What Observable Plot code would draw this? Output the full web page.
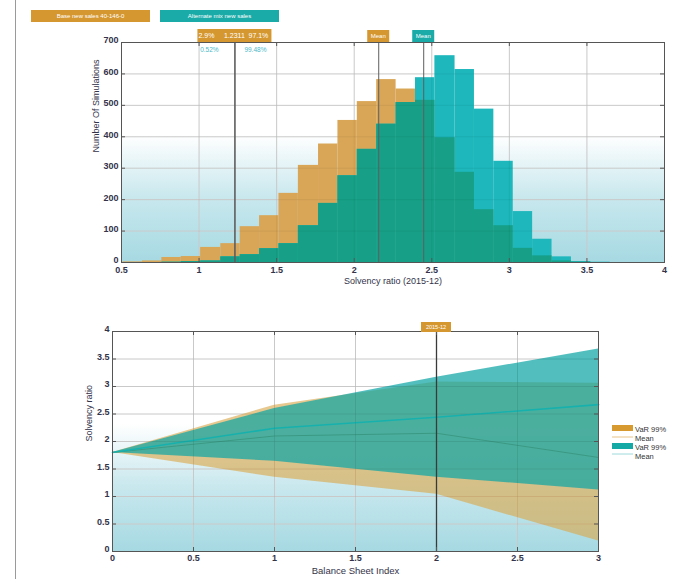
<!DOCTYPE html>
<html><head><meta charset="utf-8">
<script src="https://cdn.jsdelivr.net/npm/d3@7"></script>
<script src="https://cdn.jsdelivr.net/npm/@observablehq/plot@0.6"></script>
<style>
body{margin:0;background:#fff;}
#wrap{position:relative;width:690px;height:579px;overflow:hidden;font-family:"Liberation Sans",Arial,sans-serif;}
#topChart,#botChart{position:absolute;left:0;}
#topChart{top:0}
#botChart{top:300px}
#edge{position:absolute;left:15px;top:0;width:1px;height:579px;background:#9a9a9a;}
</style></head><body>
<div id="wrap"><div id="edge"></div><div id="topChart"></div><div id="botChart"></div></div>
<script>
// ---------- Histogram data ----------
const binEdges = [0.51, 0.635, 0.76, 0.885, 1.01, 1.14, 1.265, 1.39, 1.515, 1.64, 1.77, 1.895, 2.02, 2.145, 2.27, 2.395, 2.52, 2.65, 2.775, 2.9, 3.025, 3.15, 3.275, 3.4, 3.525, 3.65];
const baseCounts = [2, 5, 16, 19, 48, 60, 114, 149, 220, 309, 377, 452, 512, 582, 552, 516, 397, 287, 168, 117, 45, 21, 5, 1, 0];
const altCounts  = [0, 0, 1, 3, 5, 18, 25, 44, 60, 117, 188, 276, 360, 440, 509, 588, 658, 614, 488, 322, 162, 74, 18, 3, 1];
const histXTicks = [0.5, 1, 1.5, 2, 2.5, 3, 3.5, 4];
const histYTicks = [0, 100, 200, 300, 400, 500, 600, 700];
const varValue = 1.2311;
const baseMean = 2.158;
const altMean = 2.448;
const varLabels = ["2.9%", "1.2311", "97.1%"];
const altVarLabels = ["0.52%", "99.48%"];
const seriesNames = ["Base new sales 40-146-0", "Alternate mix new sales"];
const meanLabel = "Mean";
const histXLabel = "Solvency ratio (2015-12)";
const histYLabel = "Number Of Simulations";

// ---------- Fan chart data ----------
const bsIndex   = [0, 1, 2, 3];
const baseUpper = [1.8, 2.66, 3.08, 3.06];
const baseLower = [1.8, 1.35, 1.04, 0.19];
const baseMeanPath = [1.8, 2.1, 2.15, 1.71];
const altUpper  = [1.8, 2.6, 3.17, 3.68];
const altLower  = [1.8, 1.64, 1.35, 1.12];
const altMeanPath = [1.8, 2.24, 2.44, 2.67];
const fanXTicks = [0, 0.5, 1, 1.5, 2, 2.5, 3];
const fanYTicks = [0, 0.5, 1, 1.5, 2, 2.5, 3, 3.5, 4];
const currentIndex = 2;
const currentLabel = "2015-12";
const legendLabels = ["VaR 99%", "Mean", "VaR 99%", "Mean"];
const fanXLabel = "Balance Sheet Index";
const fanYLabel = "Solvency ratio";

// ---------- colours ----------
const ORANGE = "#d9a658", TEAL = "#1db7bc", GREEN = "#17a087";
const BOX_OR = "#d5972f", BOX_TE = "#1aaba8";
const AXIS = "#555", GRID = "#d6d6d6", TXT = "#33334a";
const FONT = "Liberation Sans, Arial, sans-serif";
const fmt = d => String(d);

function addGradient(svg, id) {
  const defs = d3.select(svg).insert("defs", ":first-child");
  const g = defs.append("linearGradient").attr("id", id)
    .attr("x1", 0).attr("y1", 1).attr("x2", 0).attr("y2", 0);
  g.append("stop").attr("offset", "0%").attr("stop-color", "#a6d9e2");
  g.append("stop").attr("offset", "30%").attr("stop-color", "#c9e8ee");
  g.append("stop").attr("offset", "58%").attr("stop-color", "#ffffff");
  g.append("stop").attr("offset", "100%").attr("stop-color", "#ffffff");
}
function box(sel, cx, y, w, h, fill) {
  sel.append("rect").attr("x", cx - w / 2).attr("y", y).attr("width", w).attr("height", h)
    .attr("fill", fill);
}
function txt(sel, x, y, s, size, fill, anchor = "middle") {
  sel.append("text").attr("x", x).attr("y", y).attr("font-size", size).attr("fill", fill)
    .attr("text-anchor", anchor).attr("dominant-baseline", "central")
    .attr("font-family", FONT).text(s);
}

// ---------- Top: histogram ----------
const bins = baseCounts.map((b, i) => ({
  x1: binEdges[i], x2: binEdges[i + 1], base: b, alt: altCounts[i], both: Math.min(b, altCounts[i])
}));
const histPlot = Plot.plot({
  width: 690, height: 300,
  marginLeft: 121, marginRight: 26, marginTop: 42, marginBottom: 38,
  style: {fontFamily: FONT, fontSize: "9px", background: "transparent", color: TXT, overflow: "visible"},
  x: {domain: [0.5, 4]},
  y: {domain: [0, 700]},
  marks: [
    Plot.frame({fill: "url(#gradTop)"}),
    Plot.gridX(histXTicks, {stroke: GRID, strokeOpacity: 1}),
    Plot.gridY(histYTicks, {stroke: GRID, strokeOpacity: 1}),
    Plot.rectY(bins, {x1: "x1", x2: "x2", y: "base", fill: ORANGE}),
    Plot.rectY(bins, {x1: "x1", x2: "x2", y: "alt", fill: TEAL}),
    Plot.rectY(bins, {x1: "x1", x2: "x2", y: "both", fill: GREEN}),
    Plot.gridX(histXTicks, {stroke: "#000", strokeOpacity: 0.06}),
    Plot.gridY(histYTicks, {stroke: "#000", strokeOpacity: 0.06}),
    Plot.ruleX([varValue], {stroke: "#5e5e5e", strokeWidth: 1.6}),
    Plot.ruleX([baseMean, altMean], {stroke: "#5e5e5e", strokeWidth: 1}),
    Plot.tickY(histYTicks, {y: d => d, insetRight: 539, stroke: AXIS}),
    Plot.tickY(histYTicks, {y: d => d, insetLeft: 539, stroke: AXIS}),
    Plot.tickX(histXTicks, {x: d => d, insetBottom: 216, stroke: AXIS}),
    Plot.tickX(histXTicks, {x: d => d, insetTop: 216, stroke: AXIS}),
    Plot.frame({stroke: AXIS, strokeWidth: 1}),
    Plot.axisX(histXTicks, {tickSize: 0, tickPadding: 4, tickFormat: fmt, label: null, fontWeight: "bold", fill: TXT}),
    Plot.axisY(histYTicks, {tickSize: 0, tickPadding: 3, tickFormat: fmt, label: null, fontWeight: "bold", fill: TXT, dy: -2}),
    Plot.text([histXLabel], {text: d => d, frameAnchor: "bottom", lineAnchor: "top", dy: 15, fontSize: 9, fill: TXT}),
    Plot.text([histYLabel], {text: d => d, frameAnchor: "left", rotate: -90, dx: -25, fontSize: 9, fill: TXT})
  ]
});
addGradient(histPlot, "gradTop");
{
  const s = d3.select(histPlot), xs = histPlot.scale("x");
  const g = s.append("g");
  box(g, 90.5, 10, 119, 12, BOX_OR);  txt(g, 90.5, 16, seriesNames[0], 6, "#fff");
  box(g, 219.5, 10, 119, 12, BOX_TE); txt(g, 219.5, 16, seriesNames[1], 6, "#fff");
  const cx = xs.apply(varValue);
  box(g, cx, 29, 74, 13, BOX_OR);
  txt(g, cx - 28, 35.5, varLabels[0], 7, "#fff");
  txt(g, cx, 35.5, varLabels[1], 7, "#fff");
  txt(g, cx + 24, 35.5, varLabels[2], 7, "#fff");
  txt(g, cx - 25, 49, altVarLabels[0], 6.5, "#4bb9c9");
  txt(g, cx + 21, 49, altVarLabels[1], 6.5, "#4bb9c9");
  const m1 = xs.apply(baseMean), m2 = xs.apply(altMean);
  box(g, m1, 30, 22, 12, BOX_OR); txt(g, m1, 36, meanLabel, 6, "#fff");
  box(g, m2, 30, 22, 12, BOX_TE); txt(g, m2, 36, meanLabel, 6, "#fff");
}
document.getElementById("topChart").appendChild(histPlot);

// ---------- Bottom: fan chart ----------
const fanRows = bsIndex.map((i, k) => ({
  i, bu: baseUpper[k], bl: baseLower[k], bm: baseMeanPath[k],
  au: altUpper[k], al: altLower[k], am: altMeanPath[k]
}));
const fanPlot = Plot.plot({
  width: 690, height: 279,
  marginLeft: 112, marginRight: 92, marginTop: 31, marginBottom: 28,
  style: {fontFamily: FONT, fontSize: "9px", background: "transparent", color: TXT, overflow: "visible"},
  x: {domain: [0, 3]},
  y: {domain: [0, 4]},
  marks: [
    Plot.frame({fill: "url(#gradBot)"}),
    Plot.gridX(fanXTicks, {stroke: GRID, strokeOpacity: 1}),
    Plot.gridY(fanYTicks, {stroke: GRID, strokeOpacity: 1}),
    Plot.areaY(fanRows, {x: "i", y1: "bl", y2: "bu", fill: "#d9a94f", fillOpacity: 0.64}),
    Plot.lineY(fanRows, {x: "i", y: "bm", stroke: "#a87a2c", strokeWidth: 1}),
    Plot.areaY(fanRows, {x: "i", y1: "al", y2: "au", fill: "#0fa5a5", fillOpacity: 0.72}),
    Plot.lineY(fanRows, {x: "i", y: "am", stroke: "#17b1ad", strokeWidth: 1.6}),
    Plot.gridX(fanXTicks, {stroke: "#000", strokeOpacity: 0.06}),
    Plot.gridY(fanYTicks, {stroke: "#000", strokeOpacity: 0.06}),
    Plot.ruleX([currentIndex], {stroke: "#3a3a3a", strokeWidth: 1.3}),
    Plot.tickY(fanYTicks, {y: d => d, insetRight: 482, stroke: AXIS}),
    Plot.tickY(fanYTicks, {y: d => d, insetLeft: 482, stroke: AXIS}),
    Plot.tickX(fanXTicks, {x: d => d, insetBottom: 216, stroke: AXIS}),
    Plot.tickX(fanXTicks, {x: d => d, insetTop: 216, stroke: AXIS}),
    Plot.frame({stroke: AXIS, strokeWidth: 1}),
    Plot.axisX(fanXTicks, {tickSize: 0, tickPadding: 3, tickFormat: fmt, label: null, fontWeight: "bold", fill: TXT}),
    Plot.axisY(fanYTicks, {tickSize: 0, tickPadding: 3, tickFormat: fmt, label: null, fontWeight: "bold", fill: TXT, dy: -2}),
    Plot.text([fanXLabel], {text: d => d, frameAnchor: "bottom", lineAnchor: "top", dy: 15.5, fontSize: 9.5, fill: TXT}),
    Plot.text([fanYLabel], {text: d => d, frameAnchor: "left", rotate: -90, dx: -23, fontSize: 9, fill: TXT})
  ]
});
addGradient(fanPlot, "gradBot");
{
  const s = d3.select(fanPlot), xs = fanPlot.scale("x");
  const g = s.append("g");
  const cx = xs.apply(currentIndex);
  box(g, cx, 22, 30, 10, BOX_OR); txt(g, cx, 27, currentLabel, 5.5, "#fff");
  const lx = 612, tx = 635;
  g.append("rect").attr("x", lx).attr("y", 125).attr("width", 21).attr("height", 6).attr("fill", "#d69a30");
  txt(g, tx, 129, legendLabels[0], 7.5, "#333", "start");
  g.append("line").attr("x1", lx).attr("x2", lx + 21).attr("y1", 137).attr("y2", 137).attr("stroke", "#e9c48a").attr("stroke-width", 1);
  txt(g, tx, 138, legendLabels[1], 7.5, "#333", "start");
  g.append("rect").attr("x", lx).attr("y", 143).attr("width", 21).attr("height", 6).attr("fill", "#15a9a6");
  txt(g, tx, 147, legendLabels[2], 7.5, "#333", "start");
  g.append("line").attr("x1", lx).attr("x2", lx + 21).attr("y1", 154).attr("y2", 154).attr("stroke", "#9fd9dc").attr("stroke-width", 1);
  txt(g, tx, 156, legendLabels[3], 7.5, "#333", "start");
}
document.getElementById("botChart").appendChild(fanPlot);
</script>
</body></html>
